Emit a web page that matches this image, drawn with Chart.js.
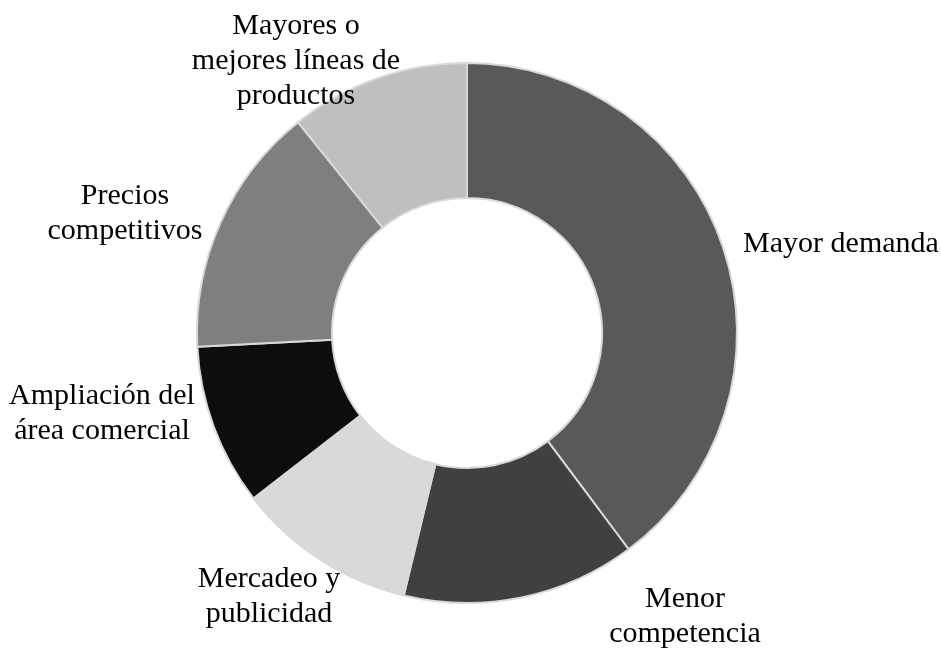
<!DOCTYPE html>
<html>
<head>
<meta charset="utf-8">
<script src="https://cdn.jsdelivr.net/npm/chart.js@4/dist/chart.umd.min.js"></script>
<style>
  html, body { margin: 0; padding: 0; background: #fff; }
  #wrap { width: 941px; height: 648px; position: relative; }
</style>
</head>
<body>
<div id="wrap"><canvas id="graficoFactores"></canvas></div>
<script>
// datos del grafico
var categorias = [
  ['Mayor demanda'],
  ['Menor', 'competencia'],
  ['Mercadeo y', 'publicidad'],
  ['Ampliación del', 'área comercial'],
  ['Precios', 'competitivos'],
  ['Mayores o', 'mejores líneas de', 'productos']
];
var valores = [37, 13, 10, 9, 14, 10];
var colores = ['#595959', '#404040', '#d9d9d9', '#0d0d0d', '#7f7f7f', '#bfbfbf'];

// posicion de cada etiqueta respecto al centro del anillo (px)
var posEtiquetas = [
  [374, -89],
  [218, 284],
  [-198, 264],
  [-365, 81],
  [-342, -119],
  [-171, -272]
];

var etiquetasExternas = {
  id: 'etiquetasExternas',
  afterDatasetsDraw: function(chart) {
    var ctx = chart.ctx;
    var arcos = chart.getDatasetMeta(0).data;
    if (!arcos.length) return;
    var cx = arcos[0].x, cy = arcos[0].y;
    ctx.save();
    ctx.font = '30px "Liberation Serif", "Times New Roman", serif';
    ctx.fillStyle = '#000';
    ctx.textAlign = 'center';
    ctx.textBaseline = 'middle';
    var alto = 35;
    categorias.forEach(function(lineas, i) {
      var x = cx + posEtiquetas[i][0];
      var y = cy + posEtiquetas[i][1];
      lineas.forEach(function(t, j) {
        ctx.fillText(t, x, y + (j - (lineas.length - 1) / 2) * alto);
      });
    });
    ctx.restore();
  }
};

new Chart(document.getElementById('graficoFactores').getContext('2d'), {
  type: 'doughnut',
  data: {
    labels: categorias.map(function(l) { return l.join(' '); }),
    datasets: [{
      data: valores,
      backgroundColor: colores,
      borderColor: '#d9d9d9',
      borderWidth: 2
    }]
  },
  options: {
    responsive: true,
    maintainAspectRatio: false,
    animation: false,
    cutout: '50%',
    layout: { padding: { top: 62, bottom: 44, left: 196, right: 203 } },
    plugins: {
      legend: { display: false },
      tooltip: { enabled: false }
    }
  },
  plugins: [etiquetasExternas]
});
</script>
</body>
</html>
